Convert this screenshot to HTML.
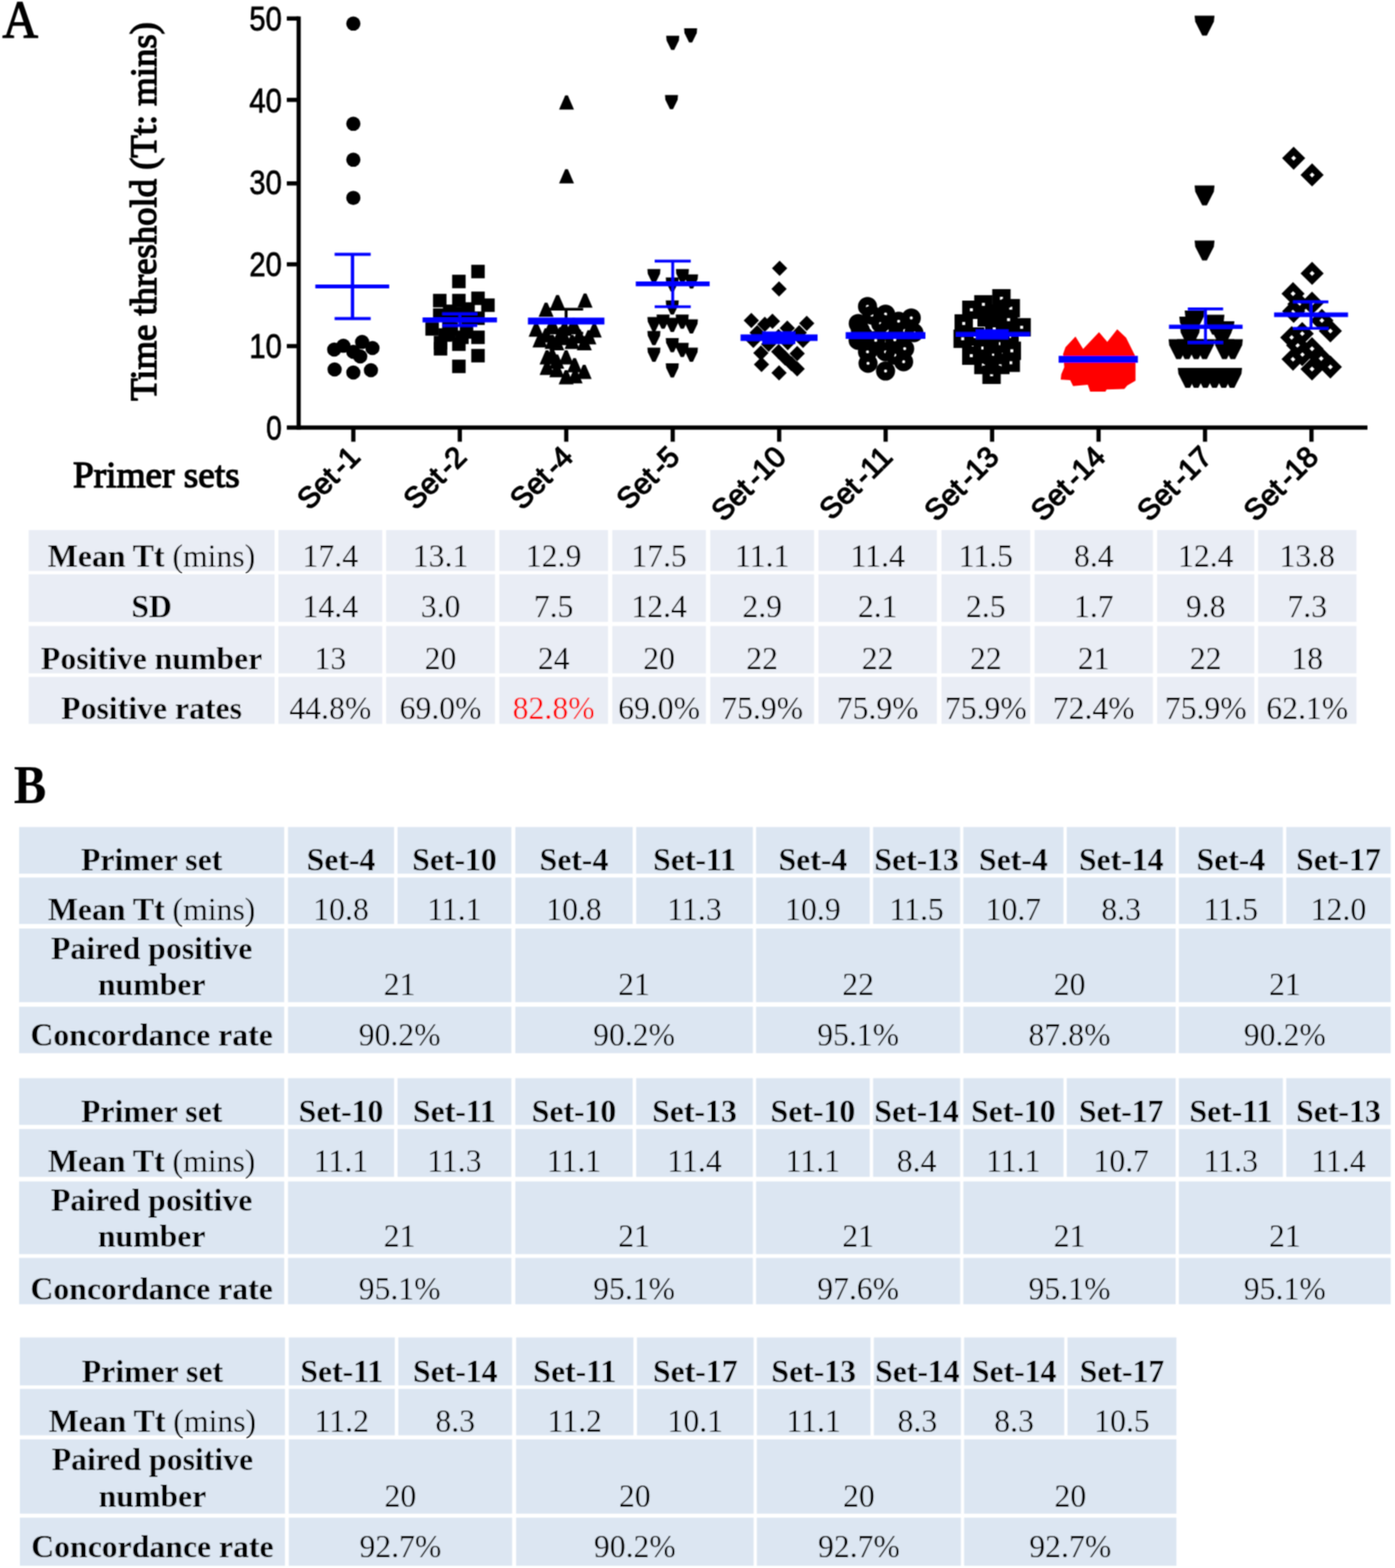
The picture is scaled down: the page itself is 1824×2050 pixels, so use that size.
<!DOCTYPE html><html><head><meta charset="utf-8"><title>Primer sets time threshold</title>
<style>html,body{margin:0;padding:0;background:#fff;}body{width:1824px;height:2050px;overflow:hidden;}svg{display:block;}.sb{font-family:'Liberation Sans', Arial, sans-serif;font-weight:bold;}.ss{font-family:'Liberation Sans', Arial, sans-serif;}.sr{font-family:'Liberation Serif', 'Times New Roman', serif;}.srb{font-family:'Liberation Serif', 'Times New Roman', serif;font-weight:bold;}</style></head><body>
<svg width="1824" height="2050" viewBox="0 0 1824 2050">
<defs><filter id="bl" x="0" y="0" width="1824" height="2050" filterUnits="userSpaceOnUse"><feConvolveMatrix order="3" kernelMatrix="1 2 1 2 4 2 1 2 1" divisor="16" edgeMode="none"/></filter></defs>
<rect width="1824" height="2050" fill="#fff"/>
<g filter="url(#bl)">
<text class="sr" x="3.2" y="49" font-size="69.5" textLength="46.5" lengthAdjust="spacingAndGlyphs" stroke="#000" stroke-width="1.6">A</text>
<text class="srb" x="18" y="1049.8" font-size="71" textLength="42.5" lengthAdjust="spacingAndGlyphs">B</text>
<text class="sr" transform="translate(203.5,276.5) rotate(-90)" text-anchor="middle" font-size="48" textLength="495" lengthAdjust="spacingAndGlyphs" stroke="#000" stroke-width="1.8">Time threshold (Tt: mins)</text>
<text class="sr" x="95.5" y="637.2" font-size="48.5" stroke="#000" stroke-width="1.6" textLength="218" lengthAdjust="spacingAndGlyphs">Primer sets</text>
<g stroke="#000" stroke-width="5.5" fill="none" stroke-linecap="butt">
<line x1="390.5" y1="21.5" x2="390.5" y2="561.75"/>
<line x1="375" y1="559.0" x2="1788" y2="559.0"/>
<line x1="375" y1="452.5" x2="390.5" y2="452.5"/>
<line x1="375" y1="345.6" x2="390.5" y2="345.6"/>
<line x1="375" y1="239.8" x2="390.5" y2="239.8"/>
<line x1="375" y1="130.6" x2="390.5" y2="130.6"/>
<line x1="375" y1="24.2" x2="390.5" y2="24.2"/>
<line x1="462.0" y1="559.0" x2="462.0" y2="577.5"/>
<line x1="601.2" y1="559.0" x2="601.2" y2="577.5"/>
<line x1="740.4" y1="559.0" x2="740.4" y2="577.5"/>
<line x1="879.6" y1="559.0" x2="879.6" y2="577.5"/>
<line x1="1018.8" y1="559.0" x2="1018.8" y2="577.5"/>
<line x1="1158.0" y1="559.0" x2="1158.0" y2="577.5"/>
<line x1="1297.2" y1="559.0" x2="1297.2" y2="577.5"/>
<line x1="1436.4" y1="559.0" x2="1436.4" y2="577.5"/>
<line x1="1575.6" y1="559.0" x2="1575.6" y2="577.5"/>
<line x1="1714.8" y1="559.0" x2="1714.8" y2="577.5"/>
</g>
<text class="ss" x="368.6" y="574.8" text-anchor="end" font-size="44" stroke="#000" stroke-width="0.9" textLength="20.5" lengthAdjust="spacingAndGlyphs">0</text>
<text class="ss" x="368.6" y="467.8" text-anchor="end" font-size="44" stroke="#000" stroke-width="0.9" textLength="42.5" lengthAdjust="spacingAndGlyphs">10</text>
<text class="ss" x="368.6" y="360.8" text-anchor="end" font-size="44" stroke="#000" stroke-width="0.9" textLength="42.5" lengthAdjust="spacingAndGlyphs">20</text>
<text class="ss" x="368.6" y="253.8" text-anchor="end" font-size="44" stroke="#000" stroke-width="0.9" textLength="42.5" lengthAdjust="spacingAndGlyphs">30</text>
<text class="ss" x="368.6" y="146.8" text-anchor="end" font-size="44" stroke="#000" stroke-width="0.9" textLength="42.5" lengthAdjust="spacingAndGlyphs">40</text>
<text class="ss" x="368.6" y="39.8" text-anchor="end" font-size="44" stroke="#000" stroke-width="0.9" textLength="42.5" lengthAdjust="spacingAndGlyphs">50</text>
<text class="ss" transform="translate(473.0,599.5) rotate(-45)" text-anchor="end" font-size="38.5" stroke="#000" stroke-width="1.5">Set<tspan dx="5">-1</tspan></text>
<text class="ss" transform="translate(612.2,599.5) rotate(-45)" text-anchor="end" font-size="38.5" stroke="#000" stroke-width="1.5">Set<tspan dx="5">-2</tspan></text>
<text class="ss" transform="translate(751.4,599.5) rotate(-45)" text-anchor="end" font-size="38.5" stroke="#000" stroke-width="1.5">Set<tspan dx="5">-4</tspan></text>
<text class="ss" transform="translate(890.6,599.5) rotate(-45)" text-anchor="end" font-size="38.5" stroke="#000" stroke-width="1.5">Set<tspan dx="5">-5</tspan></text>
<text class="ss" transform="translate(1029.8,599.5) rotate(-45)" text-anchor="end" font-size="38.5" stroke="#000" stroke-width="1.5">Set<tspan dx="5">-10</tspan></text>
<text class="ss" transform="translate(1169.0,599.5) rotate(-45)" text-anchor="end" font-size="38.5" stroke="#000" stroke-width="1.5">Set<tspan dx="5">-11</tspan></text>
<text class="ss" transform="translate(1308.2,599.5) rotate(-45)" text-anchor="end" font-size="38.5" stroke="#000" stroke-width="1.5">Set<tspan dx="5">-13</tspan></text>
<text class="ss" transform="translate(1447.4,599.5) rotate(-45)" text-anchor="end" font-size="38.5" stroke="#000" stroke-width="1.5">Set<tspan dx="5">-14</tspan></text>
<text class="ss" transform="translate(1586.6,599.5) rotate(-45)" text-anchor="end" font-size="38.5" stroke="#000" stroke-width="1.5">Set<tspan dx="5">-17</tspan></text>
<text class="ss" transform="translate(1725.8,599.5) rotate(-45)" text-anchor="end" font-size="38.5" stroke="#000" stroke-width="1.5">Set<tspan dx="5">-18</tspan></text>
<g><circle cx="462.0" cy="30.8" r="9.3" fill="#000"/><circle cx="462.0" cy="161.8" r="9.3" fill="#000"/><circle cx="462.0" cy="208.8" r="9.3" fill="#000"/><circle cx="462.0" cy="258.7" r="9.3" fill="#000"/><circle cx="437.0" cy="457.0" r="9.3" fill="#000"/><circle cx="449.0" cy="452.0" r="9.3" fill="#000"/><circle cx="462.0" cy="460.0" r="9.3" fill="#000"/><circle cx="471.0" cy="466.0" r="9.3" fill="#000"/><circle cx="473.5" cy="447.0" r="9.3" fill="#000"/><circle cx="487.0" cy="455.0" r="9.3" fill="#000"/><circle cx="437.5" cy="483.0" r="9.3" fill="#000"/><circle cx="462.0" cy="487.0" r="9.3" fill="#000"/><circle cx="485.0" cy="484.0" r="9.3" fill="#000"/><rect x="616.2" y="346.2" width="17.6" height="17.6" fill="#000"/><rect x="591.2" y="359.2" width="17.6" height="17.6" fill="#000"/><rect x="566.2" y="384.2" width="17.6" height="17.6" fill="#000"/><rect x="591.2" y="384.2" width="17.6" height="17.6" fill="#000"/><rect x="616.2" y="381.2" width="17.6" height="17.6" fill="#000"/><rect x="629.2" y="390.2" width="17.6" height="17.6" fill="#000"/><rect x="566.2" y="403.2" width="17.6" height="17.6" fill="#000"/><rect x="591.2" y="401.2" width="17.6" height="17.6" fill="#000"/><rect x="578.2" y="411.2" width="17.6" height="17.6" fill="#000"/><rect x="603.2" y="409.2" width="17.6" height="17.6" fill="#000"/><rect x="616.2" y="407.2" width="17.6" height="17.6" fill="#000"/><rect x="556.2" y="421.2" width="17.6" height="17.6" fill="#000"/><rect x="578.2" y="428.2" width="17.6" height="17.6" fill="#000"/><rect x="601.2" y="425.2" width="17.6" height="17.6" fill="#000"/><rect x="567.2" y="439.2" width="17.6" height="17.6" fill="#000"/><rect x="567.2" y="447.2" width="17.6" height="17.6" fill="#000"/><rect x="591.2" y="441.2" width="17.6" height="17.6" fill="#000"/><rect x="616.2" y="432.2" width="17.6" height="17.6" fill="#000"/><rect x="616.2" y="456.2" width="17.6" height="17.6" fill="#000"/><rect x="591.2" y="470.2" width="17.6" height="17.6" fill="#000"/><rect x="579.2" y="398.2" width="17.6" height="17.6" fill="#000"/><rect x="603.2" y="395.2" width="17.6" height="17.6" fill="#000"/><rect x="581.2" y="421.2" width="17.6" height="17.6" fill="#000"/><rect x="595.2" y="432.2" width="17.6" height="17.6" fill="#000"/><rect x="573.2" y="429.2" width="17.6" height="17.6" fill="#000"/><path d="M739.0 124.8L742.5 124.8L750.5 143.2L731.0 143.2Z" fill="#000"/><path d="M739.0 221.2L742.5 221.2L750.5 239.8L731.0 239.8Z" fill="#000"/><path d="M763.2 383.8L766.8 383.8L774.8 402.2L755.2 402.2Z" fill="#000"/><path d="M727.2 385.8L730.8 385.8L738.8 404.2L719.2 404.2Z" fill="#000"/><path d="M712.2 395.8L715.8 395.8L723.8 414.2L704.2 414.2Z" fill="#000"/><path d="M699.2 421.8L702.8 421.8L710.8 440.2L691.2 440.2Z" fill="#000"/><path d="M775.2 422.8L778.8 422.8L786.8 441.2L767.2 441.2Z" fill="#000"/><path d="M712.2 429.2L715.8 429.2L723.8 447.8L704.2 447.8Z" fill="#000"/><path d="M726.2 439.6L729.8 439.6L737.8 458.1L718.2 458.1Z" fill="#000"/><path d="M736.2 432.8L739.8 432.8L747.8 451.2L728.2 451.2Z" fill="#000"/><path d="M736.2 420.4L739.8 420.4L747.8 438.9L728.2 438.9Z" fill="#000"/><path d="M755.6 430.6L759.1 430.6L767.1 449.1L747.6 449.1Z" fill="#000"/><path d="M762.2 439.6L765.8 439.6L773.8 458.1L754.2 458.1Z" fill="#000"/><path d="M713.5 458.1L717.0 458.1L725.0 476.6L705.5 476.6Z" fill="#000"/><path d="M726.2 463.4L729.8 463.4L737.8 481.9L718.2 481.9Z" fill="#000"/><path d="M738.5 458.1L742.0 458.1L750.0 476.6L730.5 476.6Z" fill="#000"/><path d="M713.5 471.8L717.0 471.8L725.0 490.2L705.5 490.2Z" fill="#000"/><path d="M749.5 468.2L753.0 468.2L761.0 486.8L741.5 486.8Z" fill="#000"/><path d="M762.1 477.1L765.6 477.1L773.6 495.6L754.1 495.6Z" fill="#000"/><path d="M738.5 484.1L742.0 484.1L750.0 502.6L730.5 502.6Z" fill="#000"/><path d="M720.2 415.8L723.8 415.8L731.8 434.2L712.2 434.2Z" fill="#000"/><path d="M748.2 415.8L751.8 415.8L759.8 434.2L740.2 434.2Z" fill="#000"/><path d="M704.2 435.8L707.8 435.8L715.8 454.2L696.2 454.2Z" fill="#000"/><path d="M720.2 437.8L723.8 437.8L731.8 456.2L712.2 456.2Z" fill="#000"/><path d="M746.2 437.8L749.8 437.8L757.8 456.2L738.2 456.2Z" fill="#000"/><path d="M768.2 431.8L771.8 431.8L779.8 450.2L760.2 450.2Z" fill="#000"/><path d="M720.2 455.8L723.8 455.8L731.8 474.2L712.2 474.2Z" fill="#000"/><path d="M726.2 474.8L729.8 474.8L737.8 493.2L718.2 493.2Z" fill="#000"/><path d="M750.2 482.8L753.8 482.8L761.8 501.2L742.2 501.2Z" fill="#000"/><path d="M731.2 427.8L734.8 427.8L742.8 446.2L723.2 446.2Z" fill="#000"/><path d="M871.1 46.8L888.1 46.8L887.6 52.9L881.6 65.2L877.6 65.2L871.6 52.9Z" fill="#000"/><path d="M894.5 37.1L911.5 37.1L911.0 43.3L905.0 55.6L901.0 55.6L895.0 43.3Z" fill="#000"/><path d="M869.5 124.2L886.5 124.2L886.0 130.4L880.0 142.8L876.0 142.8L870.0 130.4Z" fill="#000"/><path d="M846.5 351.8L863.5 351.8L863.0 357.9L857.0 370.2L853.0 370.2L847.0 357.9Z" fill="#000"/><path d="M883.8 351.8L900.8 351.8L900.3 357.9L894.3 370.2L890.3 370.2L884.3 357.9Z" fill="#000"/><path d="M895.7 358.8L912.7 358.8L912.2 364.9L906.2 377.2L902.2 377.2L896.2 364.9Z" fill="#000"/><path d="M870.5 362.8L887.5 362.8L887.0 368.9L881.0 381.2L877.0 381.2L871.0 368.9Z" fill="#000"/><path d="M870.5 392.8L887.5 392.8L887.0 398.9L881.0 411.2L877.0 411.2L871.0 398.9Z" fill="#000"/><path d="M846.5 414.4L863.5 414.4L863.0 420.5L857.0 432.9L853.0 432.9L847.0 420.5Z" fill="#000"/><path d="M858.5 411.2L875.5 411.2L875.0 417.4L869.0 429.8L865.0 429.8L859.0 417.4Z" fill="#000"/><path d="M870.5 415.4L887.5 415.4L887.0 421.5L881.0 433.9L877.0 433.9L871.0 421.5Z" fill="#000"/><path d="M883.5 411.2L900.5 411.2L900.0 417.4L894.0 429.8L890.0 429.8L884.0 417.4Z" fill="#000"/><path d="M895.5 417.4L912.5 417.4L912.0 423.6L906.0 435.9L902.0 435.9L896.0 423.6Z" fill="#000"/><path d="M846.5 432.8L863.5 432.8L863.0 438.9L857.0 451.2L853.0 451.2L847.0 438.9Z" fill="#000"/><path d="M870.5 442.1L887.5 442.1L887.0 448.2L881.0 460.6L877.0 460.6L871.0 448.2Z" fill="#000"/><path d="M883.5 448.2L900.5 448.2L900.0 454.4L894.0 466.8L890.0 466.8L884.0 454.4Z" fill="#000"/><path d="M895.5 454.4L912.5 454.4L912.0 460.6L906.0 472.9L902.0 472.9L896.0 460.6Z" fill="#000"/><path d="M846.5 454.4L863.5 454.4L863.0 460.6L857.0 472.9L853.0 472.9L847.0 460.6Z" fill="#000"/><path d="M870.5 474.9L887.5 474.9L887.0 481.1L881.0 493.4L877.0 493.4L871.0 481.1Z" fill="#000"/><path d="M1019.4 340.8L1029.4 350.8L1019.4 360.8L1009.4 350.8Z" fill="#000"/><path d="M1018.6 367.8L1028.6 377.8L1018.6 387.8L1008.6 377.8Z" fill="#000"/><path d="M982.4 409.0L992.4 419.0L982.4 429.0L972.4 419.0Z" fill="#000"/><path d="M1000.0 414.0L1010.0 424.0L1000.0 434.0L990.0 424.0Z" fill="#000"/><path d="M1010.0 410.0L1020.0 420.0L1010.0 430.0L1000.0 420.0Z" fill="#000"/><path d="M1029.4 419.0L1039.4 429.0L1029.4 439.0L1019.4 429.0Z" fill="#000"/><path d="M1054.8 412.8L1064.8 422.8L1054.8 432.8L1044.8 422.8Z" fill="#000"/><path d="M994.9 451.4L1004.9 461.4L994.9 471.4L984.9 461.4Z" fill="#000"/><path d="M995.7 466.4L1005.7 476.4L995.7 486.4L985.7 476.4Z" fill="#000"/><path d="M1018.2 449.8L1028.2 459.8L1018.2 469.8L1008.2 459.8Z" fill="#000"/><path d="M1026.5 458.1L1036.5 468.1L1026.5 478.1L1016.5 468.1Z" fill="#000"/><path d="M1034.8 465.6L1044.8 475.6L1034.8 485.6L1024.8 475.6Z" fill="#000"/><path d="M1042.3 472.2L1052.3 482.2L1042.3 492.2L1032.3 482.2Z" fill="#000"/><path d="M1042.3 452.3L1052.3 462.3L1042.3 472.3L1032.3 462.3Z" fill="#000"/><path d="M1018.6 477.6L1028.6 487.6L1018.6 497.6L1008.6 487.6Z" fill="#000"/><path d="M985.0 435.0L995.0 445.0L985.0 455.0L975.0 445.0Z" fill="#000"/><path d="M1005.0 440.0L1015.0 450.0L1005.0 460.0L995.0 450.0Z" fill="#000"/><path d="M1030.0 438.0L1040.0 448.0L1030.0 458.0L1020.0 448.0Z" fill="#000"/><path d="M1050.0 435.0L1060.0 445.0L1050.0 455.0L1040.0 445.0Z" fill="#000"/><path d="M1018.0 430.0L1028.0 440.0L1018.0 450.0L1008.0 440.0Z" fill="#000"/><path d="M1045.0 425.0L1055.0 435.0L1045.0 445.0L1035.0 435.0Z" fill="#000"/><path d="M990.0 425.0L1000.0 435.0L990.0 445.0L980.0 435.0Z" fill="#000"/><circle cx="1134.3" cy="400.7" r="7.3" fill="none" stroke="#000" stroke-width="10.4"/><circle cx="1157.9" cy="410.7" r="7.3" fill="none" stroke="#000" stroke-width="10.4"/><circle cx="1122.2" cy="422.9" r="7.3" fill="none" stroke="#000" stroke-width="10.4"/><circle cx="1151.5" cy="422.9" r="7.3" fill="none" stroke="#000" stroke-width="10.4"/><circle cx="1191.5" cy="415.7" r="7.3" fill="none" stroke="#000" stroke-width="10.4"/><circle cx="1182.9" cy="432.2" r="7.3" fill="none" stroke="#000" stroke-width="10.4"/><circle cx="1170.0" cy="444.3" r="7.3" fill="none" stroke="#000" stroke-width="10.4"/><circle cx="1182.9" cy="455.8" r="7.3" fill="none" stroke="#000" stroke-width="10.4"/><circle cx="1134.3" cy="460.0" r="7.3" fill="none" stroke="#000" stroke-width="10.4"/><circle cx="1157.9" cy="460.0" r="7.3" fill="none" stroke="#000" stroke-width="10.4"/><circle cx="1170.0" cy="464.3" r="7.3" fill="none" stroke="#000" stroke-width="10.4"/><circle cx="1181.5" cy="472.9" r="7.3" fill="none" stroke="#000" stroke-width="10.4"/><circle cx="1157.9" cy="485.1" r="7.3" fill="none" stroke="#000" stroke-width="10.4"/><circle cx="1130.0" cy="440.0" r="7.3" fill="none" stroke="#000" stroke-width="10.4"/><circle cx="1145.0" cy="445.0" r="7.3" fill="none" stroke="#000" stroke-width="10.4"/><circle cx="1122.0" cy="445.0" r="7.3" fill="none" stroke="#000" stroke-width="10.4"/><circle cx="1135.0" cy="475.0" r="7.3" fill="none" stroke="#000" stroke-width="10.4"/><circle cx="1160.0" cy="432.0" r="7.3" fill="none" stroke="#000" stroke-width="10.4"/><circle cx="1195.0" cy="435.0" r="7.3" fill="none" stroke="#000" stroke-width="10.4"/><circle cx="1140.0" cy="412.0" r="7.3" fill="none" stroke="#000" stroke-width="10.4"/><circle cx="1175.0" cy="420.0" r="7.3" fill="none" stroke="#000" stroke-width="10.4"/><circle cx="1125.0" cy="432.0" r="7.3" fill="none" stroke="#000" stroke-width="10.4"/><rect x="1302.4" y="383.0" width="14" height="14" fill="none" stroke="#000" stroke-width="10"/><rect x="1278.8" y="390.9" width="14" height="14" fill="none" stroke="#000" stroke-width="10"/><rect x="1263.1" y="398.0" width="14" height="14" fill="none" stroke="#000" stroke-width="10"/><rect x="1314.6" y="395.9" width="14" height="14" fill="none" stroke="#000" stroke-width="10"/><rect x="1253.1" y="415.9" width="14" height="14" fill="none" stroke="#000" stroke-width="10"/><rect x="1311.7" y="410.9" width="14" height="14" fill="none" stroke="#000" stroke-width="10"/><rect x="1328.8" y="420.9" width="14" height="14" fill="none" stroke="#000" stroke-width="10"/><rect x="1251.7" y="435.9" width="14" height="14" fill="none" stroke="#000" stroke-width="10"/><rect x="1301.0" y="442.3" width="14" height="14" fill="none" stroke="#000" stroke-width="10"/><rect x="1316.0" y="451.6" width="14" height="14" fill="none" stroke="#000" stroke-width="10"/><rect x="1291.0" y="457.3" width="14" height="14" fill="none" stroke="#000" stroke-width="10"/><rect x="1314.6" y="467.3" width="14" height="14" fill="none" stroke="#000" stroke-width="10"/><rect x="1278.8" y="470.2" width="14" height="14" fill="none" stroke="#000" stroke-width="10"/><rect x="1301.0" y="470.2" width="14" height="14" fill="none" stroke="#000" stroke-width="10"/><rect x="1289.5" y="483.0" width="14" height="14" fill="none" stroke="#000" stroke-width="10"/><rect x="1283.0" y="408.0" width="14" height="14" fill="none" stroke="#000" stroke-width="10"/><rect x="1293.0" y="423.0" width="14" height="14" fill="none" stroke="#000" stroke-width="10"/><rect x="1268.0" y="433.0" width="14" height="14" fill="none" stroke="#000" stroke-width="10"/><rect x="1278.0" y="448.0" width="14" height="14" fill="none" stroke="#000" stroke-width="10"/><rect x="1263.0" y="458.0" width="14" height="14" fill="none" stroke="#000" stroke-width="10"/><rect x="1293.0" y="403.0" width="14" height="14" fill="none" stroke="#000" stroke-width="10"/><rect x="1313.0" y="433.0" width="14" height="14" fill="none" stroke="#000" stroke-width="10"/><path d="M1406.2 440L1416.2 456.2L1437 434.2L1447.8 446.9L1460.8 430.4L1472.4 441.6L1484.7 466.2L1484.7 497.8L1473.9 503.9L1470.1 508.5L1447 509.3L1445.4 512L1425.4 512L1422.3 503.1L1403.1 504.7L1399.3 497L1386.9 496.2L1387.7 489.3L1391.6 480L1390 463.1L1393.1 453.9Z" fill="#f00"/><path d="M1562.0 20.5L1588.0 20.5L1587.2 28.3L1578.0 46.5L1572.0 46.5L1562.8 28.3Z" fill="#000"/><path d="M1562.0 242.6L1588.0 242.6L1587.2 250.4L1578.0 268.6L1572.0 268.6L1562.8 250.4Z" fill="#000"/><path d="M1562.0 314.6L1588.0 314.6L1587.2 322.4L1578.0 340.6L1572.0 340.6L1562.8 322.4Z" fill="#000"/><path d="M1549.0 406.0L1575.0 406.0L1574.2 413.8L1565.0 432.0L1559.0 432.0L1549.8 413.8Z" fill="#000"/><path d="M1542.0 414.0L1568.0 414.0L1567.2 421.8L1558.0 440.0L1552.0 440.0L1542.8 421.8Z" fill="#000"/><path d="M1575.0 411.5L1601.0 411.5L1600.2 419.3L1591.0 437.5L1585.0 437.5L1575.8 419.3Z" fill="#000"/><path d="M1588.0 420.0L1614.0 420.0L1613.2 427.8L1604.0 446.0L1598.0 446.0L1588.8 427.8Z" fill="#000"/><path d="M1543.0 427.0L1569.0 427.0L1568.2 434.8L1559.0 453.0L1553.0 453.0L1543.8 434.8Z" fill="#000"/><path d="M1585.0 427.0L1611.0 427.0L1610.2 434.8L1601.0 453.0L1595.0 453.0L1585.8 434.8Z" fill="#000"/><path d="M1528.0 443.5L1554.0 443.5L1553.2 451.3L1544.0 469.5L1538.0 469.5L1528.8 451.3Z" fill="#000"/><path d="M1539.0 443.5L1565.0 443.5L1564.2 451.3L1555.0 469.5L1549.0 469.5L1539.8 451.3Z" fill="#000"/><path d="M1551.0 443.5L1577.0 443.5L1576.2 451.3L1567.0 469.5L1561.0 469.5L1551.8 451.3Z" fill="#000"/><path d="M1562.0 443.5L1588.0 443.5L1587.2 451.3L1578.0 469.5L1572.0 469.5L1562.8 451.3Z" fill="#000"/><path d="M1588.0 443.5L1614.0 443.5L1613.2 451.3L1604.0 469.5L1598.0 469.5L1588.8 451.3Z" fill="#000"/><path d="M1599.0 443.5L1625.0 443.5L1624.2 451.3L1615.0 469.5L1609.0 469.5L1599.8 451.3Z" fill="#000"/><path d="M1540.0 481.0L1566.0 481.0L1565.2 488.8L1556.0 507.0L1550.0 507.0L1540.8 488.8Z" fill="#000"/><path d="M1551.0 481.0L1577.0 481.0L1576.2 488.8L1567.0 507.0L1561.0 507.0L1551.8 488.8Z" fill="#000"/><path d="M1563.0 481.0L1589.0 481.0L1588.2 488.8L1579.0 507.0L1573.0 507.0L1563.8 488.8Z" fill="#000"/><path d="M1575.0 481.0L1601.0 481.0L1600.2 488.8L1591.0 507.0L1585.0 507.0L1575.8 488.8Z" fill="#000"/><path d="M1587.0 481.0L1613.0 481.0L1612.2 488.8L1603.0 507.0L1597.0 507.0L1587.8 488.8Z" fill="#000"/><path d="M1598.0 481.0L1624.0 481.0L1623.2 488.8L1614.0 507.0L1608.0 507.0L1598.8 488.8Z" fill="#000"/><path d="M1691.5 197.6L1700.7 206.8L1691.5 216.0L1682.3 206.8Z" fill="none" stroke="#000" stroke-width="8.4" stroke-linejoin="miter"/><path d="M1715.6 219.5L1724.8 228.7L1715.6 237.9L1706.4 228.7Z" fill="none" stroke="#000" stroke-width="8.4" stroke-linejoin="miter"/><path d="M1715.6 348.2L1724.8 357.4L1715.6 366.6L1706.4 357.4Z" fill="none" stroke="#000" stroke-width="8.4" stroke-linejoin="miter"/><path d="M1690.7 374.7L1699.9 383.9L1690.7 393.1L1681.5 383.9Z" fill="none" stroke="#000" stroke-width="8.4" stroke-linejoin="miter"/><path d="M1715.5 387.2L1724.7 396.4L1715.5 405.6L1706.3 396.4Z" fill="none" stroke="#000" stroke-width="8.4" stroke-linejoin="miter"/><path d="M1698.4 388.4L1707.6 397.6L1698.4 406.8L1689.2 397.6Z" fill="none" stroke="#000" stroke-width="8.4" stroke-linejoin="miter"/><path d="M1691.5 397.8L1700.7 407.0L1691.5 416.2L1682.3 407.0Z" fill="none" stroke="#000" stroke-width="8.4" stroke-linejoin="miter"/><path d="M1728.4 409.8L1737.6 419.0L1728.4 428.2L1719.2 419.0Z" fill="none" stroke="#000" stroke-width="8.4" stroke-linejoin="miter"/><path d="M1702.7 427.0L1711.9 436.2L1702.7 445.4L1693.5 436.2Z" fill="none" stroke="#000" stroke-width="8.4" stroke-linejoin="miter"/><path d="M1689.0 432.1L1698.2 441.3L1689.0 450.5L1679.8 441.3Z" fill="none" stroke="#000" stroke-width="8.4" stroke-linejoin="miter"/><path d="M1739.5 423.5L1748.7 432.7L1739.5 441.9L1730.3 432.7Z" fill="none" stroke="#000" stroke-width="8.4" stroke-linejoin="miter"/><path d="M1696.7 442.4L1705.9 451.6L1696.7 460.8L1687.5 451.6Z" fill="none" stroke="#000" stroke-width="8.4" stroke-linejoin="miter"/><path d="M1715.5 446.7L1724.7 455.9L1715.5 465.1L1706.3 455.9Z" fill="none" stroke="#000" stroke-width="8.4" stroke-linejoin="miter"/><path d="M1702.7 454.4L1711.9 463.6L1702.7 472.8L1693.5 463.6Z" fill="none" stroke="#000" stroke-width="8.4" stroke-linejoin="miter"/><path d="M1690.7 460.4L1699.9 469.6L1690.7 478.8L1681.5 469.6Z" fill="none" stroke="#000" stroke-width="8.4" stroke-linejoin="miter"/><path d="M1727.5 459.5L1736.7 468.7L1727.5 477.9L1718.3 468.7Z" fill="none" stroke="#000" stroke-width="8.4" stroke-linejoin="miter"/><path d="M1715.5 473.2L1724.7 482.4L1715.5 491.6L1706.3 482.4Z" fill="none" stroke="#000" stroke-width="8.4" stroke-linejoin="miter"/><path d="M1739.5 470.6L1748.7 479.8L1739.5 489.0L1730.3 479.8Z" fill="none" stroke="#000" stroke-width="8.4" stroke-linejoin="miter"/></g>
<g stroke="#00f" fill="none"><line x1="460.9" y1="332.4" x2="460.9" y2="416.6" stroke-width="4.4"/><line x1="437.5" y1="332.4" x2="484.7" y2="332.4" stroke-width="4.0"/><line x1="437.5" y1="416.6" x2="484.7" y2="416.6" stroke-width="4.0"/></g>
<line x1="412.3" y1="374.5" x2="508.9" y2="374.5" stroke="#00f" stroke-width="5.2"/>
<g stroke="#00f" fill="none"><line x1="601.2" y1="410.2" x2="601.2" y2="425.8" stroke-width="3.6"/><line x1="578.3" y1="410.2" x2="624.0" y2="410.2" stroke-width="3.4"/><line x1="578.3" y1="425.8" x2="624.0" y2="425.8" stroke-width="3.4"/></g>
<line x1="552.5" y1="418.2" x2="649.8" y2="418.2" stroke="#00f" stroke-width="6.4"/>
<g stroke="#000" fill="none"><line x1="740.2" y1="404.2" x2="740.2" y2="435.4" stroke-width="3.8"/><line x1="716.5" y1="404.2" x2="762.5" y2="404.2" stroke-width="3.4"/><line x1="716.5" y1="435.4" x2="762.5" y2="435.4" stroke-width="3.4"/></g>
<line x1="690.3" y1="419.7" x2="790.3" y2="419.7" stroke="#00f" stroke-width="9.0"/>
<g stroke="#00f" fill="none"><line x1="879.6" y1="341.4" x2="879.6" y2="401.0" stroke-width="3.8"/><line x1="856.0" y1="341.4" x2="903.2" y2="341.4" stroke-width="3.6"/><line x1="856.0" y1="401.0" x2="903.2" y2="401.0" stroke-width="3.6"/></g>
<line x1="831.3" y1="371.2" x2="927.9" y2="371.2" stroke="#00f" stroke-width="6.2"/>
<line x1="968.3" y1="441.5" x2="1069.0" y2="441.5" stroke="#00f" stroke-width="8.6"/>
<line x1="1105.7" y1="438.6" x2="1210.0" y2="438.6" stroke="#00f" stroke-width="8.6"/>
<line x1="1250.0" y1="437.2" x2="1346.6" y2="437.2" stroke="#00f" stroke-width="5.8"/>
<line x1="1384.2" y1="469.8" x2="1487.8" y2="469.8" stroke="#00f" stroke-width="9.0"/>
<g stroke="#00f" fill="none"><line x1="1576.2" y1="403.9" x2="1576.2" y2="447.9" stroke-width="3.8"/><line x1="1553.1" y1="403.9" x2="1599.3" y2="403.9" stroke-width="3.6"/><line x1="1553.1" y1="447.9" x2="1599.3" y2="447.9" stroke-width="3.6"/></g>
<line x1="1528.5" y1="427.3" x2="1624.7" y2="427.3" stroke="#00f" stroke-width="5.4"/>
<g stroke="#00f" fill="none"><line x1="1714.2" y1="394.6" x2="1714.2" y2="429.3" stroke-width="3.8"/><line x1="1690.7" y1="394.6" x2="1736.9" y2="394.6" stroke-width="3.6"/><line x1="1690.7" y1="429.3" x2="1736.9" y2="429.3" stroke-width="3.6"/></g>
<line x1="1665.9" y1="411.6" x2="1762.6" y2="411.6" stroke="#00f" stroke-width="6.0"/>
<rect x="996.6" y="433.4" width="43.3" height="16.4" fill="#00f"/>
<rect x="1275.8" y="430.7" width="42.9" height="12.9" fill="#00f"/>
<rect x="37.5" y="693" width="321.5" height="53.5" fill="#e9edf5"/>
<rect x="364" y="693" width="135.8" height="53.5" fill="#e9edf5"/>
<rect x="504.9" y="693" width="142.4" height="53.5" fill="#e9edf5"/>
<rect x="652.8" y="693" width="142.2" height="53.5" fill="#e9edf5"/>
<rect x="800.6" y="693" width="122.4" height="53.5" fill="#e9edf5"/>
<rect x="928.7" y="693" width="135.7" height="53.5" fill="#e9edf5"/>
<rect x="1070.2" y="693" width="154.8" height="53.5" fill="#e9edf5"/>
<rect x="1231" y="693" width="116.0" height="53.5" fill="#e9edf5"/>
<rect x="1352.7" y="693" width="154.8" height="53.5" fill="#e9edf5"/>
<rect x="1513" y="693" width="127.0" height="53.5" fill="#e9edf5"/>
<rect x="1645" y="693" width="128.6" height="53.5" fill="#e9edf5"/>
<rect x="37.5" y="750.8" width="321.5" height="62.2" fill="#e9edf5"/>
<rect x="364" y="750.8" width="135.8" height="62.2" fill="#e9edf5"/>
<rect x="504.9" y="750.8" width="142.4" height="62.2" fill="#e9edf5"/>
<rect x="652.8" y="750.8" width="142.2" height="62.2" fill="#e9edf5"/>
<rect x="800.6" y="750.8" width="122.4" height="62.2" fill="#e9edf5"/>
<rect x="928.7" y="750.8" width="135.7" height="62.2" fill="#e9edf5"/>
<rect x="1070.2" y="750.8" width="154.8" height="62.2" fill="#e9edf5"/>
<rect x="1231" y="750.8" width="116.0" height="62.2" fill="#e9edf5"/>
<rect x="1352.7" y="750.8" width="154.8" height="62.2" fill="#e9edf5"/>
<rect x="1513" y="750.8" width="127.0" height="62.2" fill="#e9edf5"/>
<rect x="1645" y="750.8" width="128.6" height="62.2" fill="#e9edf5"/>
<rect x="37.5" y="818.5" width="321.5" height="61.8" fill="#e9edf5"/>
<rect x="364" y="818.5" width="135.8" height="61.8" fill="#e9edf5"/>
<rect x="504.9" y="818.5" width="142.4" height="61.8" fill="#e9edf5"/>
<rect x="652.8" y="818.5" width="142.2" height="61.8" fill="#e9edf5"/>
<rect x="800.6" y="818.5" width="122.4" height="61.8" fill="#e9edf5"/>
<rect x="928.7" y="818.5" width="135.7" height="61.8" fill="#e9edf5"/>
<rect x="1070.2" y="818.5" width="154.8" height="61.8" fill="#e9edf5"/>
<rect x="1231" y="818.5" width="116.0" height="61.8" fill="#e9edf5"/>
<rect x="1352.7" y="818.5" width="154.8" height="61.8" fill="#e9edf5"/>
<rect x="1513" y="818.5" width="127.0" height="61.8" fill="#e9edf5"/>
<rect x="1645" y="818.5" width="128.6" height="61.8" fill="#e9edf5"/>
<rect x="37.5" y="885" width="321.5" height="61.4" fill="#e9edf5"/>
<rect x="364" y="885" width="135.8" height="61.4" fill="#e9edf5"/>
<rect x="504.9" y="885" width="142.4" height="61.4" fill="#e9edf5"/>
<rect x="652.8" y="885" width="142.2" height="61.4" fill="#e9edf5"/>
<rect x="800.6" y="885" width="122.4" height="61.4" fill="#e9edf5"/>
<rect x="928.7" y="885" width="135.7" height="61.4" fill="#e9edf5"/>
<rect x="1070.2" y="885" width="154.8" height="61.4" fill="#e9edf5"/>
<rect x="1231" y="885" width="116.0" height="61.4" fill="#e9edf5"/>
<rect x="1352.7" y="885" width="154.8" height="61.4" fill="#e9edf5"/>
<rect x="1513" y="885" width="127.0" height="61.4" fill="#e9edf5"/>
<rect x="1645" y="885" width="128.6" height="61.4" fill="#e9edf5"/>
<text x="198.2" y="740.5" text-anchor="middle" font-size="41.5" class="sr"><tspan class="srb">Mean Tt</tspan> (mins)</text>
<text x="431.9" y="740.5" text-anchor="middle" font-size="41.5" class="sr" fill="#000">17.4</text>
<text x="576.1" y="740.5" text-anchor="middle" font-size="41.5" class="sr" fill="#000">13.1</text>
<text x="723.9" y="740.5" text-anchor="middle" font-size="41.5" class="sr" fill="#000">12.9</text>
<text x="861.8" y="740.5" text-anchor="middle" font-size="41.5" class="sr" fill="#000">17.5</text>
<text x="996.6" y="740.5" text-anchor="middle" font-size="41.5" class="sr" fill="#000">11.1</text>
<text x="1147.6" y="740.5" text-anchor="middle" font-size="41.5" class="sr" fill="#000">11.4</text>
<text x="1289.0" y="740.5" text-anchor="middle" font-size="41.5" class="sr" fill="#000">11.5</text>
<text x="1430.1" y="740.5" text-anchor="middle" font-size="41.5" class="sr" fill="#000">8.4</text>
<text x="1576.5" y="740.5" text-anchor="middle" font-size="41.5" class="sr" fill="#000">12.4</text>
<text x="1709.3" y="740.5" text-anchor="middle" font-size="41.5" class="sr" fill="#000">13.8</text>
<text x="198.2" y="806.5" text-anchor="middle" font-size="41.5" class="srb">SD</text>
<text x="431.9" y="806.5" text-anchor="middle" font-size="41.5" class="sr" fill="#000">14.4</text>
<text x="576.1" y="806.5" text-anchor="middle" font-size="41.5" class="sr" fill="#000">3.0</text>
<text x="723.9" y="806.5" text-anchor="middle" font-size="41.5" class="sr" fill="#000">7.5</text>
<text x="861.8" y="806.5" text-anchor="middle" font-size="41.5" class="sr" fill="#000">12.4</text>
<text x="996.6" y="806.5" text-anchor="middle" font-size="41.5" class="sr" fill="#000">2.9</text>
<text x="1147.6" y="806.5" text-anchor="middle" font-size="41.5" class="sr" fill="#000">2.1</text>
<text x="1289.0" y="806.5" text-anchor="middle" font-size="41.5" class="sr" fill="#000">2.5</text>
<text x="1430.1" y="806.5" text-anchor="middle" font-size="41.5" class="sr" fill="#000">1.7</text>
<text x="1576.5" y="806.5" text-anchor="middle" font-size="41.5" class="sr" fill="#000">9.8</text>
<text x="1709.3" y="806.5" text-anchor="middle" font-size="41.5" class="sr" fill="#000">7.3</text>
<text x="198.2" y="874.5" text-anchor="middle" font-size="41.5" class="srb">Positive number</text>
<text x="431.9" y="874.5" text-anchor="middle" font-size="41.5" class="sr" fill="#000">13</text>
<text x="576.1" y="874.5" text-anchor="middle" font-size="41.5" class="sr" fill="#000">20</text>
<text x="723.9" y="874.5" text-anchor="middle" font-size="41.5" class="sr" fill="#000">24</text>
<text x="861.8" y="874.5" text-anchor="middle" font-size="41.5" class="sr" fill="#000">20</text>
<text x="996.6" y="874.5" text-anchor="middle" font-size="41.5" class="sr" fill="#000">22</text>
<text x="1147.6" y="874.5" text-anchor="middle" font-size="41.5" class="sr" fill="#000">22</text>
<text x="1289.0" y="874.5" text-anchor="middle" font-size="41.5" class="sr" fill="#000">22</text>
<text x="1430.1" y="874.5" text-anchor="middle" font-size="41.5" class="sr" fill="#000">21</text>
<text x="1576.5" y="874.5" text-anchor="middle" font-size="41.5" class="sr" fill="#000">22</text>
<text x="1709.3" y="874.5" text-anchor="middle" font-size="41.5" class="sr" fill="#000">18</text>
<text x="198.2" y="940" text-anchor="middle" font-size="41.5" class="srb">Positive rates</text>
<text x="431.9" y="940" text-anchor="middle" font-size="41.5" class="sr" fill="#000">44.8%</text>
<text x="576.1" y="940" text-anchor="middle" font-size="41.5" class="sr" fill="#000">69.0%</text>
<text x="723.9" y="940" text-anchor="middle" font-size="41.5" class="sr" fill="#f00">82.8%</text>
<text x="861.8" y="940" text-anchor="middle" font-size="41.5" class="sr" fill="#000">69.0%</text>
<text x="996.6" y="940" text-anchor="middle" font-size="41.5" class="sr" fill="#000">75.9%</text>
<text x="1147.6" y="940" text-anchor="middle" font-size="41.5" class="sr" fill="#000">75.9%</text>
<text x="1289.0" y="940" text-anchor="middle" font-size="41.5" class="sr" fill="#000">75.9%</text>
<text x="1430.1" y="940" text-anchor="middle" font-size="41.5" class="sr" fill="#000">72.4%</text>
<text x="1576.5" y="940" text-anchor="middle" font-size="41.5" class="sr" fill="#000">75.9%</text>
<text x="1709.3" y="940" text-anchor="middle" font-size="41.5" class="sr" fill="#000">62.1%</text>
<rect x="25" y="1081.3" width="346.6" height="61.0" fill="#dce6f2"/>
<rect x="376.6" y="1081.3" width="138.7" height="61.0" fill="#dce6f2"/>
<rect x="519.8" y="1081.3" width="148.8" height="61.0" fill="#dce6f2"/>
<rect x="673.8" y="1081.3" width="153.5" height="61.0" fill="#dce6f2"/>
<rect x="831.8" y="1081.3" width="152.6" height="61.0" fill="#dce6f2"/>
<rect x="988.6" y="1081.3" width="148.6" height="61.0" fill="#dce6f2"/>
<rect x="1141.6" y="1081.3" width="113.8" height="61.0" fill="#dce6f2"/>
<rect x="1259.6" y="1081.3" width="130.9" height="61.0" fill="#dce6f2"/>
<rect x="1394.8" y="1081.3" width="142.4" height="61.0" fill="#dce6f2"/>
<rect x="1541.4" y="1081.3" width="136.0" height="61.0" fill="#dce6f2"/>
<rect x="1681.8" y="1081.3" width="136.6" height="61.0" fill="#dce6f2"/>
<rect x="25" y="1147.3" width="346.6" height="60.7" fill="#dce6f2"/>
<rect x="376.6" y="1147.3" width="138.7" height="60.7" fill="#dce6f2"/>
<rect x="519.8" y="1147.3" width="148.8" height="60.7" fill="#dce6f2"/>
<rect x="673.8" y="1147.3" width="153.5" height="60.7" fill="#dce6f2"/>
<rect x="831.8" y="1147.3" width="152.6" height="60.7" fill="#dce6f2"/>
<rect x="988.6" y="1147.3" width="148.6" height="60.7" fill="#dce6f2"/>
<rect x="1141.6" y="1147.3" width="113.8" height="60.7" fill="#dce6f2"/>
<rect x="1259.6" y="1147.3" width="130.9" height="60.7" fill="#dce6f2"/>
<rect x="1394.8" y="1147.3" width="142.4" height="60.7" fill="#dce6f2"/>
<rect x="1541.4" y="1147.3" width="136.0" height="60.7" fill="#dce6f2"/>
<rect x="1681.8" y="1147.3" width="136.6" height="60.7" fill="#dce6f2"/>
<rect x="25" y="1213.9" width="346.6" height="96.4" fill="#dce6f2"/>
<rect x="376.6" y="1213.9" width="292.0" height="96.4" fill="#dce6f2"/>
<rect x="673.8" y="1213.9" width="310.6" height="96.4" fill="#dce6f2"/>
<rect x="988.6" y="1213.9" width="266.8" height="96.4" fill="#dce6f2"/>
<rect x="1259.6" y="1213.9" width="277.6" height="96.4" fill="#dce6f2"/>
<rect x="1541.4" y="1213.9" width="277.0" height="96.4" fill="#dce6f2"/>
<rect x="25" y="1316.2" width="346.6" height="60.7" fill="#dce6f2"/>
<rect x="376.6" y="1316.2" width="292.0" height="60.7" fill="#dce6f2"/>
<rect x="673.8" y="1316.2" width="310.6" height="60.7" fill="#dce6f2"/>
<rect x="988.6" y="1316.2" width="266.8" height="60.7" fill="#dce6f2"/>
<rect x="1259.6" y="1316.2" width="277.6" height="60.7" fill="#dce6f2"/>
<rect x="1541.4" y="1316.2" width="277.0" height="60.7" fill="#dce6f2"/>
<text x="198.3" y="1138.3" text-anchor="middle" font-size="41.5" class="srb">Primer set</text>
<text x="198.3" y="1203.3" text-anchor="middle" font-size="41.5" class="sr"><tspan class="srb">Mean Tt</tspan> (mins)</text>
<text x="198.3" y="1253.8" text-anchor="middle" font-size="41.5" class="srb">Paired positive</text>
<text x="198.3" y="1301.3" text-anchor="middle" font-size="41.5" class="srb">number</text>
<text x="198.3" y="1367.3" text-anchor="middle" font-size="41.5" class="srb">Concordance rate</text>
<text x="445.9" y="1138.3" text-anchor="middle" font-size="41.5" class="srb">Set-4</text>
<text x="445.9" y="1203.3" text-anchor="middle" font-size="41.5" class="sr">10.8</text>
<text x="594.2" y="1138.3" text-anchor="middle" font-size="41.5" class="srb">Set-10</text>
<text x="594.2" y="1203.3" text-anchor="middle" font-size="41.5" class="sr">11.1</text>
<text x="750.5" y="1138.3" text-anchor="middle" font-size="41.5" class="srb">Set-4</text>
<text x="750.5" y="1203.3" text-anchor="middle" font-size="41.5" class="sr">10.8</text>
<text x="908.1" y="1138.3" text-anchor="middle" font-size="41.5" class="srb">Set-11</text>
<text x="908.1" y="1203.3" text-anchor="middle" font-size="41.5" class="sr">11.3</text>
<text x="1062.9" y="1138.3" text-anchor="middle" font-size="41.5" class="srb">Set-4</text>
<text x="1062.9" y="1203.3" text-anchor="middle" font-size="41.5" class="sr">10.9</text>
<text x="1198.5" y="1138.3" text-anchor="middle" font-size="41.5" class="srb">Set-13</text>
<text x="1198.5" y="1203.3" text-anchor="middle" font-size="41.5" class="sr">11.5</text>
<text x="1325.0" y="1138.3" text-anchor="middle" font-size="41.5" class="srb">Set-4</text>
<text x="1325.0" y="1203.3" text-anchor="middle" font-size="41.5" class="sr">10.7</text>
<text x="1466.0" y="1138.3" text-anchor="middle" font-size="41.5" class="srb">Set-14</text>
<text x="1466.0" y="1203.3" text-anchor="middle" font-size="41.5" class="sr">8.3</text>
<text x="1609.4" y="1138.3" text-anchor="middle" font-size="41.5" class="srb">Set-4</text>
<text x="1609.4" y="1203.3" text-anchor="middle" font-size="41.5" class="sr">11.5</text>
<text x="1750.1" y="1138.3" text-anchor="middle" font-size="41.5" class="srb">Set-17</text>
<text x="1750.1" y="1203.3" text-anchor="middle" font-size="41.5" class="sr">12.0</text>
<text x="522.6" y="1301.3" text-anchor="middle" font-size="41.5" class="sr">21</text>
<text x="522.6" y="1367.3" text-anchor="middle" font-size="41.5" class="sr">90.2%</text>
<text x="829.1" y="1301.3" text-anchor="middle" font-size="41.5" class="sr">21</text>
<text x="829.1" y="1367.3" text-anchor="middle" font-size="41.5" class="sr">90.2%</text>
<text x="1122.0" y="1301.3" text-anchor="middle" font-size="41.5" class="sr">22</text>
<text x="1122.0" y="1367.3" text-anchor="middle" font-size="41.5" class="sr">95.1%</text>
<text x="1398.4" y="1301.3" text-anchor="middle" font-size="41.5" class="sr">20</text>
<text x="1398.4" y="1367.3" text-anchor="middle" font-size="41.5" class="sr">87.8%</text>
<text x="1679.9" y="1301.3" text-anchor="middle" font-size="41.5" class="sr">21</text>
<text x="1679.9" y="1367.3" text-anchor="middle" font-size="41.5" class="sr">90.2%</text>
<rect x="25" y="1409.6" width="346.6" height="61.0" fill="#dce6f2"/>
<rect x="376.6" y="1409.6" width="138.7" height="61.0" fill="#dce6f2"/>
<rect x="519.8" y="1409.6" width="148.8" height="61.0" fill="#dce6f2"/>
<rect x="673.8" y="1409.6" width="153.5" height="61.0" fill="#dce6f2"/>
<rect x="831.8" y="1409.6" width="152.6" height="61.0" fill="#dce6f2"/>
<rect x="988.6" y="1409.6" width="148.6" height="61.0" fill="#dce6f2"/>
<rect x="1141.6" y="1409.6" width="113.8" height="61.0" fill="#dce6f2"/>
<rect x="1259.6" y="1409.6" width="130.9" height="61.0" fill="#dce6f2"/>
<rect x="1394.8" y="1409.6" width="142.4" height="61.0" fill="#dce6f2"/>
<rect x="1541.4" y="1409.6" width="136.0" height="61.0" fill="#dce6f2"/>
<rect x="1681.8" y="1409.6" width="136.6" height="61.0" fill="#dce6f2"/>
<rect x="25" y="1476.1" width="346.6" height="62.5" fill="#dce6f2"/>
<rect x="376.6" y="1476.1" width="138.7" height="62.5" fill="#dce6f2"/>
<rect x="519.8" y="1476.1" width="148.8" height="62.5" fill="#dce6f2"/>
<rect x="673.8" y="1476.1" width="153.5" height="62.5" fill="#dce6f2"/>
<rect x="831.8" y="1476.1" width="152.6" height="62.5" fill="#dce6f2"/>
<rect x="988.6" y="1476.1" width="148.6" height="62.5" fill="#dce6f2"/>
<rect x="1141.6" y="1476.1" width="113.8" height="62.5" fill="#dce6f2"/>
<rect x="1259.6" y="1476.1" width="130.9" height="62.5" fill="#dce6f2"/>
<rect x="1394.8" y="1476.1" width="142.4" height="62.5" fill="#dce6f2"/>
<rect x="1541.4" y="1476.1" width="136.0" height="62.5" fill="#dce6f2"/>
<rect x="1681.8" y="1476.1" width="136.6" height="62.5" fill="#dce6f2"/>
<rect x="25" y="1544.6" width="346.6" height="95.0" fill="#dce6f2"/>
<rect x="376.6" y="1544.6" width="292.0" height="95.0" fill="#dce6f2"/>
<rect x="673.8" y="1544.6" width="310.6" height="95.0" fill="#dce6f2"/>
<rect x="988.6" y="1544.6" width="266.8" height="95.0" fill="#dce6f2"/>
<rect x="1259.6" y="1544.6" width="277.6" height="95.0" fill="#dce6f2"/>
<rect x="1541.4" y="1544.6" width="277.0" height="95.0" fill="#dce6f2"/>
<rect x="25" y="1644.6" width="346.6" height="60.6" fill="#dce6f2"/>
<rect x="376.6" y="1644.6" width="292.0" height="60.6" fill="#dce6f2"/>
<rect x="673.8" y="1644.6" width="310.6" height="60.6" fill="#dce6f2"/>
<rect x="988.6" y="1644.6" width="266.8" height="60.6" fill="#dce6f2"/>
<rect x="1259.6" y="1644.6" width="277.6" height="60.6" fill="#dce6f2"/>
<rect x="1541.4" y="1644.6" width="277.0" height="60.6" fill="#dce6f2"/>
<text x="198.3" y="1466.6" text-anchor="middle" font-size="41.5" class="srb">Primer set</text>
<text x="198.3" y="1531.6" text-anchor="middle" font-size="41.5" class="sr"><tspan class="srb">Mean Tt</tspan> (mins)</text>
<text x="198.3" y="1583.3" text-anchor="middle" font-size="41.5" class="srb">Paired positive</text>
<text x="198.3" y="1629.6" text-anchor="middle" font-size="41.5" class="srb">number</text>
<text x="198.3" y="1699.4" text-anchor="middle" font-size="41.5" class="srb">Concordance rate</text>
<text x="445.9" y="1466.6" text-anchor="middle" font-size="41.5" class="srb">Set-10</text>
<text x="445.9" y="1531.6" text-anchor="middle" font-size="41.5" class="sr">11.1</text>
<text x="594.2" y="1466.6" text-anchor="middle" font-size="41.5" class="srb">Set-11</text>
<text x="594.2" y="1531.6" text-anchor="middle" font-size="41.5" class="sr">11.3</text>
<text x="750.5" y="1466.6" text-anchor="middle" font-size="41.5" class="srb">Set-10</text>
<text x="750.5" y="1531.6" text-anchor="middle" font-size="41.5" class="sr">11.1</text>
<text x="908.1" y="1466.6" text-anchor="middle" font-size="41.5" class="srb">Set-13</text>
<text x="908.1" y="1531.6" text-anchor="middle" font-size="41.5" class="sr">11.4</text>
<text x="1062.9" y="1466.6" text-anchor="middle" font-size="41.5" class="srb">Set-10</text>
<text x="1062.9" y="1531.6" text-anchor="middle" font-size="41.5" class="sr">11.1</text>
<text x="1198.5" y="1466.6" text-anchor="middle" font-size="41.5" class="srb">Set-14</text>
<text x="1198.5" y="1531.6" text-anchor="middle" font-size="41.5" class="sr">8.4</text>
<text x="1325.0" y="1466.6" text-anchor="middle" font-size="41.5" class="srb">Set-10</text>
<text x="1325.0" y="1531.6" text-anchor="middle" font-size="41.5" class="sr">11.1</text>
<text x="1466.0" y="1466.6" text-anchor="middle" font-size="41.5" class="srb">Set-17</text>
<text x="1466.0" y="1531.6" text-anchor="middle" font-size="41.5" class="sr">10.7</text>
<text x="1609.4" y="1466.6" text-anchor="middle" font-size="41.5" class="srb">Set-11</text>
<text x="1609.4" y="1531.6" text-anchor="middle" font-size="41.5" class="sr">11.3</text>
<text x="1750.1" y="1466.6" text-anchor="middle" font-size="41.5" class="srb">Set-13</text>
<text x="1750.1" y="1531.6" text-anchor="middle" font-size="41.5" class="sr">11.4</text>
<text x="522.6" y="1629.6" text-anchor="middle" font-size="41.5" class="sr">21</text>
<text x="522.6" y="1699.4" text-anchor="middle" font-size="41.5" class="sr">95.1%</text>
<text x="829.1" y="1629.6" text-anchor="middle" font-size="41.5" class="sr">21</text>
<text x="829.1" y="1699.4" text-anchor="middle" font-size="41.5" class="sr">95.1%</text>
<text x="1122.0" y="1629.6" text-anchor="middle" font-size="41.5" class="sr">21</text>
<text x="1122.0" y="1699.4" text-anchor="middle" font-size="41.5" class="sr">97.6%</text>
<text x="1398.4" y="1629.6" text-anchor="middle" font-size="41.5" class="sr">21</text>
<text x="1398.4" y="1699.4" text-anchor="middle" font-size="41.5" class="sr">95.1%</text>
<text x="1679.9" y="1629.6" text-anchor="middle" font-size="41.5" class="sr">21</text>
<text x="1679.9" y="1699.4" text-anchor="middle" font-size="41.5" class="sr">95.1%</text>
<rect x="26" y="1748.6" width="346.6" height="62.7" fill="#dce6f2"/>
<rect x="377.6" y="1748.6" width="138.7" height="62.7" fill="#dce6f2"/>
<rect x="520.8" y="1748.6" width="148.8" height="62.7" fill="#dce6f2"/>
<rect x="674.8" y="1748.6" width="153.5" height="62.7" fill="#dce6f2"/>
<rect x="832.8" y="1748.6" width="152.6" height="62.7" fill="#dce6f2"/>
<rect x="989.6" y="1748.6" width="148.6" height="62.7" fill="#dce6f2"/>
<rect x="1142.6" y="1748.6" width="113.8" height="62.7" fill="#dce6f2"/>
<rect x="1260.6" y="1748.6" width="130.9" height="62.7" fill="#dce6f2"/>
<rect x="1395.8" y="1748.6" width="142.4" height="62.7" fill="#dce6f2"/>
<rect x="26" y="1815.8" width="346.6" height="60.7" fill="#dce6f2"/>
<rect x="377.6" y="1815.8" width="138.7" height="60.7" fill="#dce6f2"/>
<rect x="520.8" y="1815.8" width="148.8" height="60.7" fill="#dce6f2"/>
<rect x="674.8" y="1815.8" width="153.5" height="60.7" fill="#dce6f2"/>
<rect x="832.8" y="1815.8" width="152.6" height="60.7" fill="#dce6f2"/>
<rect x="989.6" y="1815.8" width="148.6" height="60.7" fill="#dce6f2"/>
<rect x="1142.6" y="1815.8" width="113.8" height="60.7" fill="#dce6f2"/>
<rect x="1260.6" y="1815.8" width="130.9" height="60.7" fill="#dce6f2"/>
<rect x="1395.8" y="1815.8" width="142.4" height="60.7" fill="#dce6f2"/>
<rect x="26" y="1881.8" width="346.6" height="97.1" fill="#dce6f2"/>
<rect x="377.6" y="1881.8" width="292.0" height="97.1" fill="#dce6f2"/>
<rect x="674.8" y="1881.8" width="310.6" height="97.1" fill="#dce6f2"/>
<rect x="989.6" y="1881.8" width="266.8" height="97.1" fill="#dce6f2"/>
<rect x="1260.6" y="1881.8" width="277.6" height="97.1" fill="#dce6f2"/>
<rect x="26" y="1984.2" width="346.6" height="62.9" fill="#dce6f2"/>
<rect x="377.6" y="1984.2" width="292.0" height="62.9" fill="#dce6f2"/>
<rect x="674.8" y="1984.2" width="310.6" height="62.9" fill="#dce6f2"/>
<rect x="989.6" y="1984.2" width="266.8" height="62.9" fill="#dce6f2"/>
<rect x="1260.6" y="1984.2" width="277.6" height="62.9" fill="#dce6f2"/>
<text x="199.3" y="1806.6" text-anchor="middle" font-size="41.5" class="srb">Primer set</text>
<text x="199.3" y="1871.6" text-anchor="middle" font-size="41.5" class="sr"><tspan class="srb">Mean Tt</tspan> (mins)</text>
<text x="199.3" y="1922.1" text-anchor="middle" font-size="41.5" class="srb">Paired positive</text>
<text x="199.3" y="1969.6" text-anchor="middle" font-size="41.5" class="srb">number</text>
<text x="199.3" y="2035.6" text-anchor="middle" font-size="41.5" class="srb">Concordance rate</text>
<text x="446.9" y="1806.6" text-anchor="middle" font-size="41.5" class="srb">Set-11</text>
<text x="446.9" y="1871.6" text-anchor="middle" font-size="41.5" class="sr">11.2</text>
<text x="595.2" y="1806.6" text-anchor="middle" font-size="41.5" class="srb">Set-14</text>
<text x="595.2" y="1871.6" text-anchor="middle" font-size="41.5" class="sr">8.3</text>
<text x="751.5" y="1806.6" text-anchor="middle" font-size="41.5" class="srb">Set-11</text>
<text x="751.5" y="1871.6" text-anchor="middle" font-size="41.5" class="sr">11.2</text>
<text x="909.1" y="1806.6" text-anchor="middle" font-size="41.5" class="srb">Set-17</text>
<text x="909.1" y="1871.6" text-anchor="middle" font-size="41.5" class="sr">10.1</text>
<text x="1063.9" y="1806.6" text-anchor="middle" font-size="41.5" class="srb">Set-13</text>
<text x="1063.9" y="1871.6" text-anchor="middle" font-size="41.5" class="sr">11.1</text>
<text x="1199.5" y="1806.6" text-anchor="middle" font-size="41.5" class="srb">Set-14</text>
<text x="1199.5" y="1871.6" text-anchor="middle" font-size="41.5" class="sr">8.3</text>
<text x="1326.0" y="1806.6" text-anchor="middle" font-size="41.5" class="srb">Set-14</text>
<text x="1326.0" y="1871.6" text-anchor="middle" font-size="41.5" class="sr">8.3</text>
<text x="1467.0" y="1806.6" text-anchor="middle" font-size="41.5" class="srb">Set-17</text>
<text x="1467.0" y="1871.6" text-anchor="middle" font-size="41.5" class="sr">10.5</text>
<text x="523.6" y="1969.6" text-anchor="middle" font-size="41.5" class="sr">20</text>
<text x="523.6" y="2035.6" text-anchor="middle" font-size="41.5" class="sr">92.7%</text>
<text x="830.1" y="1969.6" text-anchor="middle" font-size="41.5" class="sr">20</text>
<text x="830.1" y="2035.6" text-anchor="middle" font-size="41.5" class="sr">90.2%</text>
<text x="1123.0" y="1969.6" text-anchor="middle" font-size="41.5" class="sr">20</text>
<text x="1123.0" y="2035.6" text-anchor="middle" font-size="41.5" class="sr">92.7%</text>
<text x="1399.4" y="1969.6" text-anchor="middle" font-size="41.5" class="sr">20</text>
<text x="1399.4" y="2035.6" text-anchor="middle" font-size="41.5" class="sr">92.7%</text>
</g></svg></body></html>
